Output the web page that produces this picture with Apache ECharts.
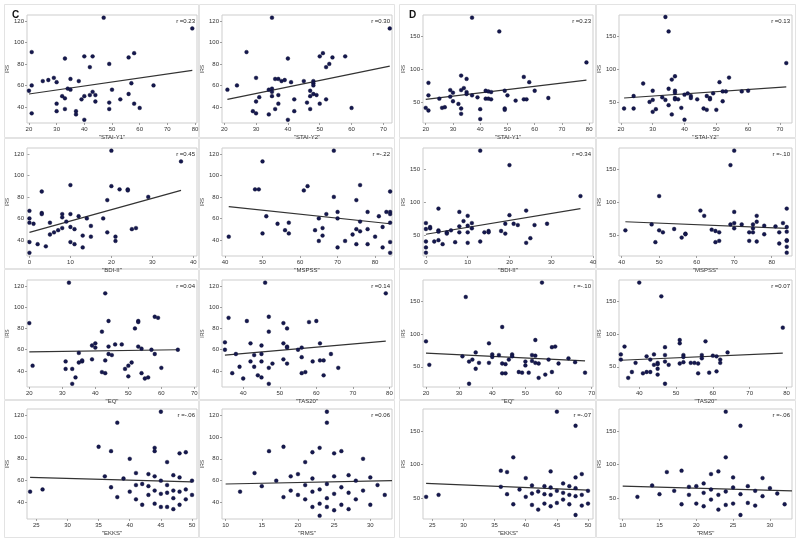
<!DOCTYPE html>
<html>
<head>
<meta charset="utf-8">
<script src="https://cdn.jsdelivr.net/npm/echarts@6/dist/echarts.min.js"></script>
<style>
  html, body {margin:0; padding:0; background:#fff;}
  #main {width:798px; height:540px;}
</style>
</head>
<body>
<div id="main"></div>
<script>
// ---- data ----
var yTicksC = [40, 60, 80, 100, 120];
var yTicksD = [50, 100, 150];

var cStaiY1 = [[47,123],[79,113],[21,91],[33,85],[40,87],[43,87],[42,77],[49,80],[56,86],[58,90],[21,60],[25,64],[27,65],[29,67],[30,63],[35,66],[38,64],[34,57],[35,56],[20,55],[32,50],[33,48],[43,54],[42,51],[44,51],[39,47],[40,50],[50,56],[53,47],[57,62],[56,52],[65,60],[30,43],[44,45],[49,44],[58,43],[60,39],[30,36],[33,38],[37,36],[37,33],[21,34],[40,28],[49,38]];
var cStaiY2 = [[35,123],[72,113],[27,91],[40,85],[50,87],[51,90],[53,80],[54,86],[58,87],[52,77],[21,56],[24,60],[30,67],[36,66],[37,66],[38,64],[39,65],[41,63],[45,64],[48,64],[48,62],[48,60],[34,56],[35,57],[35,54],[35,50],[31,49],[37,51],[47,55],[47,50],[48,52],[49,51],[30,45],[42,47],[52,47],[50,43],[46,44],[37,43],[29,36],[30,34],[36,38],[42,36],[47,38],[34,33],[60,39],[40,28]];
var cBdi = [[20,123],[37,113],[10,91],[3,85],[20,90],[22,87],[24,87],[24,86],[19,77],[29,80],[0,67],[0,60],[0,56],[1,55],[3,65],[3,64],[5,56],[8,64],[8,61],[10,64],[12,62],[14,60],[9,57],[18,60],[6,47],[7,49],[8,51],[5,45],[10,52],[11,50],[15,53],[15,43],[13,44],[19,47],[21,43],[21,39],[25,50],[26,51],[10,38],[11,36],[2,36],[4,34],[13,33],[0,38],[0,28]];
var cMspss = [[69,123],[50,113],[48,87],[49,87],[61,86],[62,90],[76,91],[69,80],[75,77],[84,85],[51,62],[54,55],[57,56],[56,49],[57,46],[67,64],[65,60],[70,66],[70,60],[66,51],[64,49],[76,57],[78,66],[75,50],[76,48],[78,50],[81,62],[83,66],[82,52],[84,66],[84,64],[84,56],[50,46],[41,43],[66,44],[74,45],[80,43],[65,39],[72,39],[75,36],[78,36],[70,33],[82,33],[84,38],[84,28]];
var cEq = [[32,123],[43,113],[20,85],[44,87],[42,77],[52,80],[53,87],[53,86],[58,91],[59,90],[39,64],[40,66],[40,62],[44,63],[46,65],[48,65],[53,63],[54,61],[57,60],[65,60],[44,56],[45,55],[35,57],[39,51],[43,50],[31,49],[35,48],[36,49],[36,50],[58,56],[21,45],[51,48],[50,45],[49,42],[60,43],[31,42],[33,42],[42,39],[43,38],[54,38],[34,34],[50,35],[55,33],[56,34],[33,28]];
var cTas = [[46,123],[79,113],[36,90],[41,87],[47,91],[47,77],[51,85],[52,80],[58,86],[60,87],[35,67],[35,60],[38,56],[42,66],[45,64],[45,56],[43,55],[51,66],[52,63],[52,62],[55,60],[56,62],[61,66],[64,56],[42,49],[45,49],[48,47],[52,47],[43,44],[51,51],[56,53],[59,49],[61,50],[62,50],[39,44],[47,43],[37,38],[44,36],[40,33],[45,34],[56,38],[57,39],[62,36],[66,43],[47,28]];
var cEkks = [[45,123],[38,113],[35,91],[44,90],[37,87],[44,87],[49,86],[48,85],[40,80],[46,77],[24,50],[26,52],[41,67],[43,66],[47,65],[36,64],[44,64],[48,63],[39,62],[45,60],[50,60],[42,57],[46,56],[41,56],[43,55],[37,54],[49,52],[47,51],[44,51],[48,50],[40,50],[46,49],[45,48],[43,47],[50,47],[38,45],[47,44],[41,43],[49,43],[44,39],[42,38],[48,38],[46,36],[45,36],[47,34]];
var cRms = [[24,123],[24,113],[18,91],[23,90],[16,87],[26,87],[22,86],[25,85],[29,80],[21,77],[14,67],[20,66],[27,65],[19,64],[25,64],[30,63],[22,62],[17,60],[28,60],[24,57],[21,56],[31,56],[15,55],[26,54],[23,52],[19,51],[29,51],[12,50],[22,50],[27,49],[25,48],[20,47],[32,47],[18,45],[24,44],[28,43],[21,43],[23,39],[26,38],[30,38],[22,36],[24,36],[27,34],[25,33],[23,28]];

var dStaiY1 = [[37,179],[47,158],[79,111],[21,80],[33,91],[35,86],[56,89],[58,81],[21,61],[29,69],[30,65],[34,72],[33,69],[35,66],[35,63],[37,61],[39,58],[29,59],[30,52],[32,48],[25,56],[42,68],[43,67],[44,66],[42,56],[43,56],[44,55],[49,68],[50,61],[60,68],[53,53],[56,55],[57,55],[65,57],[20,42],[21,38],[26,42],[27,43],[33,41],[33,33],[40,40],[40,25],[49,41],[49,39]];
var dStaiY2 = [[34,180],[35,158],[72,110],[37,90],[36,85],[27,79],[54,88],[51,81],[35,71],[37,68],[37,65],[30,68],[24,60],[33,58],[37,57],[37,55],[38,55],[40,62],[41,64],[42,60],[42,57],[44,55],[47,60],[48,57],[48,55],[49,64],[52,67],[53,67],[58,67],[60,68],[52,52],[29,51],[30,54],[34,54],[35,46],[21,41],[24,41],[31,40],[30,36],[39,42],[36,32],[46,41],[47,39],[50,39],[40,24]];
var dBdi = [[13,179],[20,157],[37,110],[3,91],[8,86],[10,80],[24,88],[20,81],[0,69],[0,60],[1,63],[1,61],[3,58],[3,56],[5,55],[5,53],[6,58],[8,64],[8,55],[9,72],[10,65],[10,55],[11,69],[11,61],[14,55],[15,57],[15,55],[18,57],[19,68],[19,53],[21,68],[22,66],[26,66],[29,68],[0,41],[0,32],[0,24],[2,41],[3,43],[4,37],[7,40],[10,39],[13,41],[24,39],[25,46]];
var dMspss = [[70,179],[69,157],[50,110],[61,88],[62,80],[70,86],[76,80],[84,91],[48,67],[54,60],[51,55],[50,58],[41,58],[56,47],[57,53],[57,52],[64,59],[65,57],[66,55],[69,67],[70,69],[70,61],[72,67],[74,55],[75,61],[75,67],[75,55],[76,71],[78,65],[78,52],[81,64],[82,55],[83,69],[84,63],[84,56],[49,40],[65,40],[66,42],[74,42],[76,41],[82,38],[84,43],[84,42],[84,33],[84,24]];
var dEq = [[55,179],[32,157],[43,111],[20,89],[39,86],[53,91],[58,80],[59,81],[21,53],[31,66],[35,72],[33,58],[34,61],[36,56],[35,47],[39,56],[40,69],[40,65],[42,68],[43,55],[44,54],[45,61],[46,69],[46,66],[50,58],[50,52],[52,68],[52,59],[53,67],[53,56],[54,55],[57,61],[60,55],[63,63],[65,57],[43,40],[44,40],[48,42],[49,41],[51,41],[54,33],[56,38],[58,42],[68,41],[33,24]];
var dTas = [[40,179],[46,158],[79,110],[36,81],[47,80],[51,91],[51,86],[58,89],[35,69],[35,61],[39,56],[42,66],[44,69],[43,61],[44,53],[45,56],[45,54],[45,47],[47,68],[47,58],[48,53],[51,55],[52,68],[52,65],[52,57],[54,56],[55,56],[56,55],[57,68],[57,63],[60,67],[61,66],[62,61],[62,56],[64,72],[38,42],[37,33],[41,40],[42,42],[43,42],[45,38],[47,24],[56,40],[59,41],[61,43]];
var dEkks = [[45,179],[48,158],[38,111],[36,91],[44,90],[37,89],[49,86],[48,81],[40,80],[46,72],[24,52],[26,55],[41,69],[43,68],[47,68],[36,67],[44,66],[48,65],[39,63],[45,61],[50,61],[42,60],[46,58],[41,57],[43,56],[37,56],[49,55],[47,55],[44,55],[48,53],[40,52],[46,48],[45,43],[43,42],[50,42],[38,41],[47,41],[41,40],[49,39],[44,38],[42,33],[48,25]];
var dRms = [[24,179],[26,158],[24,111],[18,91],[23,90],[16,89],[22,86],[25,81],[29,80],[21,72],[14,69],[20,68],[27,68],[19,67],[25,66],[30,65],[22,63],[17,61],[28,61],[24,60],[21,58],[31,57],[15,56],[26,56],[23,55],[19,55],[29,53],[12,52],[22,48],[27,43],[25,42],[20,42],[32,41],[18,41],[24,40],[28,39],[21,38],[23,33],[26,25]];

// fitted line end points
var fitCStaiY1 = [[20,52],[79,74]];
var fitCStaiY2 = [[21,47],[72,78]];
var fitCBdi = [[0,47],[37,86]];
var fitCMspss = [[41,71],[84,55]];
var fitCEq = [[20,58],[65,60]];
var fitCTas = [[35,55],[79,68]];
var fitCEkks = [[24,63],[50,59]];
var fitCRms = [[10,57],[33,60]];
var fitDStaiY1 = [[20,55],[79,84]];
var fitDStaiY2 = [[21,57],[72,74]];
var fitDBdi = [[0,52],[37,91]];
var fitDMspss = [[41,71],[84,61]];
var fitDEq = [[20,71],[68,59]];
var fitDTas = [[35,60],[79,71]];
var fitDEkks = [[24,72],[50,62]];
var fitDRms = [[10,68],[33,61]];

var rTexts = ['r =0.23','r =0.30','r =0.45','r =-.22','r =0.04','r =0.14','r =-.06','r =0.06',
              'r =0.23','r =0.13','r =0.34','r =-.10','r =-.10','r =0.07','r =-.07','r =-.06'];
var xNames = ['"STAI-Y1"','"STAI-Y2"','"BDI-II"','"MSPSS"','"EQ"','"TAS20"','"EKKS"','"RMS"'];

// layout (pixels)
var rowTop = [15, 148, 280, 409];
var rowH = [108, 108, 107, 110];
var colLeft = [27, 222, 423, 619];
var colW = [170, 170, 170, 173];
var frameRows = [[4,137],[138,268],[269,399],[400,537]];
var frameCols = [[4,198],[199,394],[399,595],[596,795]];

var panels = [
  // block C
  {d:cStaiY1, f:fitCStaiY1, xt:[20,30,40,50,60,70,80], xmin:19.3, xmax:80.7},
  {d:cStaiY2, f:fitCStaiY2, xt:[20,30,40,50,60,70], xmin:19.3, xmax:72.7},
  {d:cBdi, f:fitCBdi, xt:[0,10,20,30,40], xmin:-0.6, xmax:40.9},
  {d:cMspss, f:fitCMspss, xt:[40,50,60,70,80], xmin:39.2, xmax:84.5},
  {d:cEq, f:fitCEq, xt:[20,30,40,50,60,70], xmin:19.3, xmax:70.8},
  {d:cTas, f:fitCTas, xt:[40,50,60,70,80], xmin:34.2, xmax:80.7},
  {d:cEkks, f:fitCEkks, xt:[25,30,35,40,45,50], xmin:23.5, xmax:50.8},
  {d:cRms, f:fitCRms, xt:[10,15,20,25,30], xmin:9.5, xmax:33},
  // block D
  {d:dStaiY1, f:fitDStaiY1, xt:[20,30,40,50,60,70,80], xmin:19.0, xmax:81.4},
  {d:dStaiY2, f:fitDStaiY2, xt:[20,30,40,50,60,70], xmin:19.4, xmax:73.8},
  {d:dBdi, f:fitDBdi, xt:[0,10,20,30,40], xmin:-0.7, xmax:40},
  {d:dMspss, f:fitDMspss, xt:[40,50,60,70,80], xmin:39.3, xmax:85.4},
  {d:dEq, f:fitDEq, xt:[20,30,40,50,60,70], xmin:19.1, xmax:70.4},
  {d:dTas, f:fitDTas, xt:[40,50,60,70,80], xmin:34.5, xmax:81.5},
  {d:dEkks, f:fitDEkks, xt:[25,30,35,40,45,50], xmin:23.5, xmax:50.8},
  {d:dRms, f:fitDRms, xt:[10,15,20,25,30], xmin:9.5, xmax:33}
];

var grids = [], xAxes = [], yAxes = [], series = [], graphics = [];
var fontFam = 'Liberation Sans, Arial, sans-serif';

// faint panel frames
frameRows.forEach(function(r){
  frameCols.forEach(function(c){
    graphics.push({type:'rect', silent:true, z:-10,
      shape:{x:c[0]+0.5, y:r[0]+0.5, width:c[1]-c[0], height:r[1]-r[0]},
      style:{fill:'#fff', stroke:'#e3e3e3', lineWidth:1}});
  });
});

panels.forEach(function(p, i){
  var block = i < 8 ? 0 : 1;          // 0 = C, 1 = D
  var k = i % 8;
  var row = Math.floor(k / 2);
  var col = block * 2 + (k % 2);
  var isC = block === 0;

  grids.push({left:colLeft[col], top:rowTop[row], width:colW[col], height:rowH[row],
    show:true, borderColor:'#cdcdcd', borderWidth:1, backgroundColor:'#fff'});

  xAxes.push({
    type:'value', gridIndex:i, min:p.xmin, max:p.xmax,
    name:xNames[k], nameLocation:'middle', nameGap:11,
    nameTextStyle:{fontSize:6, color:'#333', fontFamily:fontFam},
    axisLine:{show:false},
    axisTick:{show:true, length:2, customValues:p.xt, lineStyle:{color:'#888', width:0.8}},
    axisLabel:{fontSize:6, color:'#333', margin:3, fontFamily:fontFam, customValues:p.xt, hideOverlap:false},
    splitLine:{show:false}
  });

  var yt = isC ? yTicksC : yTicksD;
  yAxes.push({
    type:'value', gridIndex:i, min:isC ? 25 : 19, max:isC ? 125.5 : 183,
    name:'IRS', nameLocation:'middle', nameGap:isC ? 14 : 13, nameRotate:90,
    nameTextStyle:{fontSize:5, color:'#333', fontFamily:fontFam},
    axisLine:{show:false},
    axisTick:{show:true, length:2, customValues:yt, lineStyle:{color:'#888', width:0.8}},
    axisLabel:{fontSize:6, color:'#333', margin:3, fontFamily:fontFam, customValues:yt},
    splitLine:{show:false}
  });

  series.push({
    type:'scatter', xAxisIndex:i, yAxisIndex:i, data:p.d,
    symbol:'circle', symbolSize:3.8,
    itemStyle:{color:'#15184f', opacity:1, borderColor:'#0a0c30', borderWidth:0.4},
    silent:true, z:3
  });
  series.push({
    type:'line', xAxisIndex:i, yAxisIndex:i, data:p.f,
    showSymbol:false, lineStyle:{color:'#333', width:1.2},
    silent:true, z:2
  });

  graphics.push({type:'text', silent:true,
    x:colLeft[col] + colW[col] - 2, y:rowTop[row] + 3,
    style:{text:rTexts[i], fontSize:6, fill:'#222', fontFamily:fontFam, align:'right', verticalAlign:'top'}});
});

graphics.push({type:'text', silent:true, x:12, y:10,
  style:{text:'C', fontSize:10, fontWeight:'bold', fill:'#111', fontFamily:fontFam}});
graphics.push({type:'text', silent:true, x:409, y:10,
  style:{text:'D', fontSize:10, fontWeight:'bold', fill:'#111', fontFamily:fontFam}});

var myChart = echarts.init(document.getElementById('main'), null, {renderer:'canvas'});
myChart.setOption({
  animation:false,
  backgroundColor:'#fff',
  grid:grids,
  xAxis:xAxes,
  yAxis:yAxes,
  series:series,
  graphic:graphics
});
</script>
</body>
</html>
